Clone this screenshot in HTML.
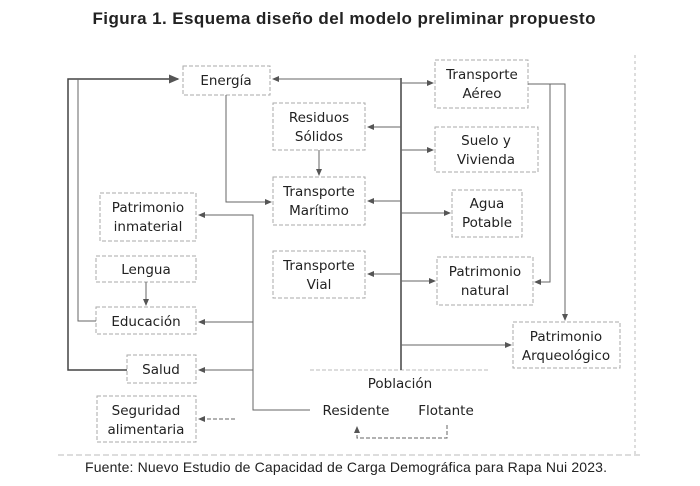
<!DOCTYPE html>
<html><head><meta charset="utf-8"><style>
html,body{margin:0;padding:0;background:#fff;width:700px;height:486px;overflow:hidden}
svg{display:block}
text{font-family:"DejaVu Sans","Liberation Sans",sans-serif;fill:#222}
.t{font-size:13.5px;text-anchor:middle}
.b{fill:none;stroke:#aaa;stroke-width:1;stroke-dasharray:4 2}
.l{fill:none;stroke:#666;stroke-width:1}
.d{fill:none;stroke:#444;stroke-width:1.5}
</style></head><body>
<svg width="700" height="486" viewBox="0 0 700 486">
<defs><marker id="m" markerWidth="7" markerHeight="6" refX="6" refY="3" orient="auto"><path d="M0,0L7,3L0,6z" fill="#555"/></marker></defs>
<text x="344" y="24" textLength="503" style="font-family:'Liberation Sans',sans-serif;font-size:17px;font-weight:bold;text-anchor:middle">Figura 1. Esquema diseño del modelo preliminar propuesto</text>
<line x1="635" y1="55" x2="635" y2="455" stroke="#bbb" stroke-dasharray="3 3"/>
<line x1="58" y1="455" x2="640" y2="455" stroke="#bbb" stroke-dasharray="6 3"/>
<rect class="b" x="183" y="66" width="87" height="29"/>
<rect class="b" x="273" y="103" width="92" height="47"/>
<rect class="b" x="273" y="177" width="92" height="48"/>
<rect class="b" x="273" y="251" width="92" height="47"/>
<rect class="b" x="100" y="193" width="96" height="48"/>
<rect class="b" x="96" y="256" width="100" height="26"/>
<rect class="b" x="96" y="307" width="100" height="27"/>
<rect class="b" x="127" y="355" width="69" height="28"/>
<rect class="b" x="97" y="396" width="99" height="46"/>
<rect class="b" x="435" y="60" width="93" height="48"/>
<rect class="b" x="435" y="127" width="103" height="45"/>
<rect class="b" x="452" y="190" width="70" height="47"/>
<rect class="b" x="437" y="257" width="96" height="48"/>
<rect class="b" x="513" y="322" width="107" height="46"/>
<line x1="310" y1="370" x2="490" y2="370" stroke="#bbb" stroke-dasharray="4 2"/>
<text class="t" x="226" y="85">Energía</text>
<text class="t" x="319" y="122">Residuos</text><text class="t" x="319" y="141">Sólidos</text>
<text class="t" x="319" y="196">Transporte</text><text class="t" x="319" y="215">Marítimo</text>
<text class="t" x="319" y="270">Transporte</text><text class="t" x="319" y="289">Vial</text>
<text class="t" x="148" y="212">Patrimonio</text><text class="t" x="148" y="231">inmaterial</text>
<text class="t" x="146" y="274">Lengua</text>
<text class="t" x="146" y="326">Educación</text>
<text class="t" x="161" y="374">Salud</text>
<text class="t" x="146" y="415">Seguridad</text><text class="t" x="146" y="434">alimentaria</text>
<text class="t" x="482" y="79">Transporte</text><text class="t" x="482" y="98">Aéreo</text>
<text class="t" x="486" y="145">Suelo y</text><text class="t" x="486" y="164">Vivienda</text>
<text class="t" x="487" y="208">Agua</text><text class="t" x="487" y="227">Potable</text>
<text class="t" x="485" y="276">Patrimonio</text><text class="t" x="485" y="295">natural</text>
<text class="t" x="566" y="341">Patrimonio</text><text class="t" x="566" y="360">Arqueológico</text>
<text class="t" x="400" y="388">Población</text>
<text class="t" x="356" y="415">Residente</text>
<text class="t" x="446" y="415">Flotante</text>
<line class="d" x1="401" y1="78" x2="401" y2="370"/>
<line class="l" x1="401" y1="79" x2="273" y2="79" marker-end="url(#m)"/>
<polyline class="d" points="127,370 68,370 68,79 178,79" marker-end="url(#m)"/>
<polyline class="l" points="96,321 78,321 78,79"/>
<line class="l" x1="401" y1="127" x2="368" y2="127" marker-end="url(#m)"/>
<line class="l" x1="401" y1="201" x2="368" y2="201" marker-end="url(#m)"/>
<line class="l" x1="401" y1="274" x2="368" y2="274" marker-end="url(#m)"/>
<line class="l" x1="401" y1="83" x2="433" y2="83" marker-end="url(#m)"/>
<line class="l" x1="401" y1="150" x2="433" y2="150" marker-end="url(#m)"/>
<line class="l" x1="401" y1="213" x2="450" y2="213" marker-end="url(#m)"/>
<line class="l" x1="401" y1="281" x2="435" y2="281" marker-end="url(#m)"/>
<line class="l" x1="401" y1="345" x2="511" y2="345" marker-end="url(#m)"/>
<polyline class="l" points="226,95 226,202 271,202" marker-end="url(#m)"/>
<line class="l" x1="319" y1="150" x2="319" y2="175" marker-end="url(#m)"/>
<line class="l" x1="146" y1="282" x2="146" y2="305" marker-end="url(#m)"/>
<polyline class="l" points="528,84 565,84 565,320" marker-end="url(#m)"/>
<polyline class="l" points="550,84 550,282 535,282" marker-end="url(#m)"/>
<polyline class="l" points="310,410 253,410 253,215 199,215" marker-end="url(#m)"/>
<line class="l" x1="253" y1="322" x2="199" y2="322" marker-end="url(#m)"/>
<line class="l" x1="253" y1="370" x2="199" y2="370" marker-end="url(#m)"/>
<line class="l" x1="235" y1="419" x2="199" y2="419" stroke-dasharray="4 2" marker-end="url(#m)"/>
<polyline class="l" points="447,425 447,438 357,438 357,427" stroke-dasharray="4 2" marker-end="url(#m)"/>
<text x="85" y="472" textLength="522" style="font-family:'Liberation Sans',sans-serif;font-size:14px">Fuente: Nuevo Estudio de Capacidad de Carga Demográfica para Rapa Nui 2023.</text>
</svg>
</body></html>
